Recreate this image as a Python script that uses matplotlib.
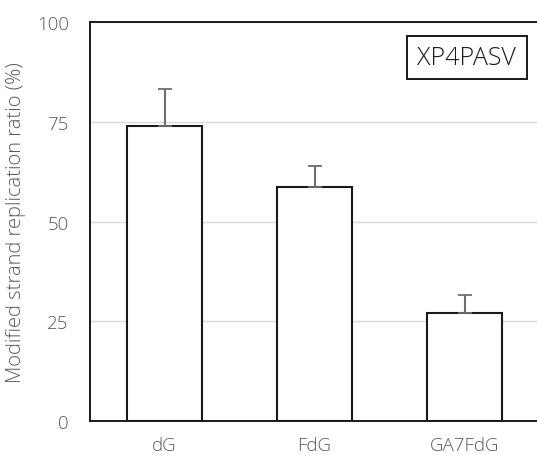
import matplotlib
matplotlib.use("Agg")
import matplotlib.pyplot as plt
from matplotlib.patches import Rectangle

categories = ["dG", "FdG", "GA7FdG"]
ratios = [74.0, 58.7, 27.2]
errors_up = [9.4, 5.3, 4.5]
yticks = [0, 25, 50, 75, 100]

plt.rcParams["font.family"] = ["Open Sans", "DejaVu Sans"]

fig = plt.figure(figsize=(5.37, 4.56), dpi=100)
ax = fig.add_axes([0.1667, 0.0746, 0.838, 0.874])

x = list(range(len(categories)))
ax.bar(x, ratios, width=0.5, color="white", edgecolor="#1a1a1a", linewidth=1.5, zorder=3)
ax.errorbar(x, ratios, yerr=[[0] * len(ratios), errors_up], fmt="none",
            ecolor="#6e6e6e", elinewidth=1.5, capsize=5, capthick=1.3, zorder=4)

ax.set_xlim(-0.5, 2.5)
ax.set_ylim(0, 100)
ax.set_yticks(yticks)
ax.set_xticks(x)
ax.set_xticklabels(categories)
ax.yaxis.grid(True, color="#d9d9d9", linewidth=1, zorder=0)
ax.set_axisbelow(True)

for side in ["left", "bottom", "top"]:
    ax.spines[side].set_color("#1a1a1a")
    ax.spines[side].set_linewidth(1.4)
ax.spines["right"].set_visible(False)

ax.tick_params(axis="both", length=0, labelsize=13.5, labelcolor="#595959")
ax.tick_params(axis="y", pad=15)
ax.tick_params(axis="x", pad=11)
for lab in ax.get_xticklabels() + ax.get_yticklabels():
    lab.set_fontweight("light")

ax.set_ylabel("Modified strand replication ratio (%)", fontsize=14.5,
              color="#595959", fontweight="light", labelpad=8)

# label box in the upper right corner
ax.add_patch(Rectangle((0.705, 0.857), 0.267, 0.109, transform=ax.transAxes,
                       facecolor="white", edgecolor="#1a1a1a", linewidth=1.4, zorder=5))
ax.text(0.838, 0.912, "XP4PASV", transform=ax.transAxes, ha="center", va="center",
        fontsize=18, color="#1a1a1a", fontweight="light", zorder=6)

fig.savefig("out.png", dpi=100)
